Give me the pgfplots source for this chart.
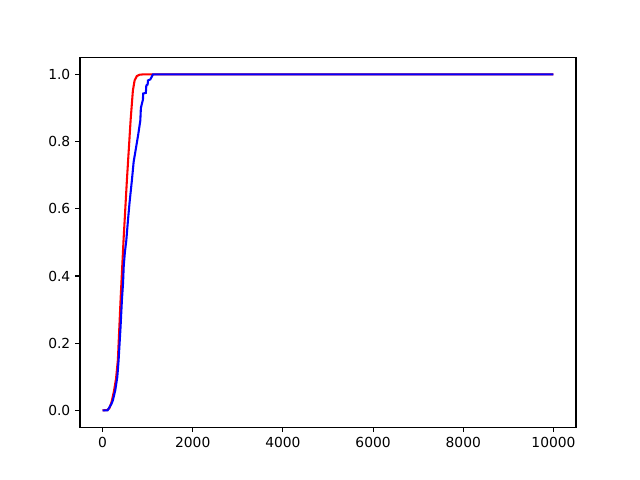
\documentclass[border=0pt]{standalone}
\usepackage{fontspec}
\setmainfont{DejaVu Sans}
\usepackage{pgfplots}
\pgfplotsset{compat=1.18}
\begin{document}
\begin{tikzpicture}
\path[use as bounding box] (0,0) rectangle (6.4in,4.8in);
\begin{axis}[
  at={(0.8in,0.528in)}, anchor=south west,
  scale only axis, width=4.96in, height=3.696in,
  xmin=-500, xmax=10500, ymin=-0.05, ymax=1.05,
  xtick={0,2000,4000,6000,8000,10000},
  ytick={0,0.2,0.4,0.6,0.8,1.0},
  scaled x ticks=false,
  tick align=outside, tick pos=left,
  major tick length=3.5pt,
  every tick/.style={black, line width=0.8pt},
  axis line style={line width=0.8pt},
  /pgf/number format/assume math mode=true,
  x tick label style={/pgf/number format/1000 sep={}},
  y tick label style={/pgf/number format/.cd, fixed, fixed zerofill, precision=1},
  tick label style={font=\fontsize{10}{12}\selectfont},
]
% smooth model curve
\addplot[red, line width=1.5pt] coordinates {
  (0,0) (100,0.001) (150,0.006) (200,0.025) (250,0.055) (300,0.095)
  (340,0.15) (400,0.33) (467,0.51) (540,0.685) (622,0.863)
  (673,0.952) (711,0.982) (760,0.995) (822,0.999) (900,1) (10000,1)
};
% empirical curve
\addplot[blue, line width=1.5pt] coordinates {
  (0,0) (110,0) (156,0.010) (200,0.020) (229,0.030) (282,0.060)
  (327,0.099) (356,0.149) (400,0.25) (429,0.327) (455,0.38) (470,0.43)
  (495,0.47) (527,0.506) (560,0.56) (600,0.62) (651,0.685) (690,0.74)
  (733,0.774) (790,0.82) (838,0.863) (850,0.90) (896,0.925) (900,0.943)
  (960,0.945) (971,0.967) (1000,0.970) (1007,0.982) (1060,0.985)
  (1118,1.0) (10000,1.0)
};
\end{axis}
\end{tikzpicture}
\end{document}
